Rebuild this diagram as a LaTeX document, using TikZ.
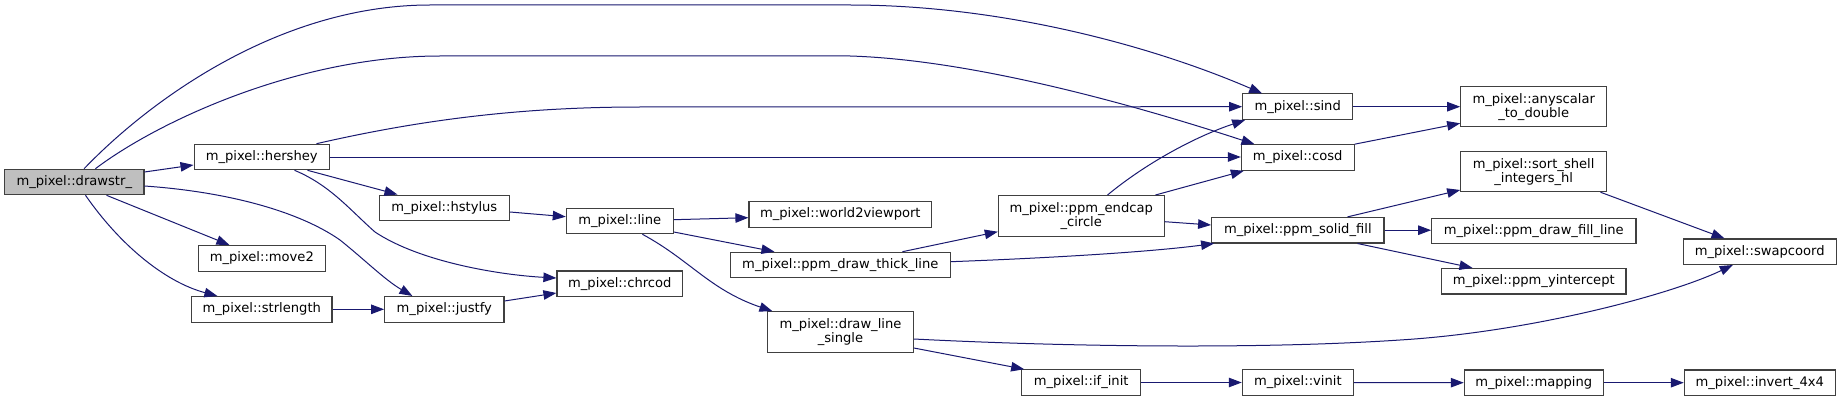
\documentclass[tikz,border=0pt]{standalone}
\usepackage{fontspec}
\setmainfont{DejaVu Sans}
\usetikzlibrary{arrows.meta}
\definecolor{edgeblue}{HTML}{191970}
\definecolor{boxline}{HTML}{404040}
\definecolor{rootfill}{HTML}{BFBFBF}
\begin{document}
\begin{tikzpicture}[x=1pt,y=-1pt,
  fn/.style={draw=boxline, line width=1.1pt, fill=white, inner sep=0pt,
    minimum height=25.5pt, align=center, font=\fontsize{13.1}{14}\selectfont},
  fn2/.style={fn, minimum height=40.5pt},
  call/.style={draw=edgeblue, line width=1pt, -{Triangle[length=13pt,width=9.5pt]}}]
\useasboundingbox (0,0) rectangle (1841,401);
\fill[white] (0,0) rectangle (1841,401);
% nodes
\node[fn, fill=rootfill, minimum width=139.3pt] (drawstr) at (74.3,182) {m\_pixel::drawstr\_};
\node[fn, minimum width=135.3pt] (hershey) at (261.7,157) {m\_pixel::hershey};
\node[fn, minimum width=127pt] (move2) at (261.8,258.3) {m\_pixel::move2};
\node[fn, minimum width=140.3pt] (strlength) at (261.8,309.3) {m\_pixel::strlength};
\node[fn, minimum width=130pt] (hstylus) at (444.3,207.8) {m\_pixel::hstylus};
\node[fn, minimum width=119.3pt] (justfy) at (444.3,309.3) {m\_pixel::justfy};
\node[fn, minimum width=107pt] (line) at (619.8,221) {m\_pixel::line};
\node[fn, minimum width=125.7pt] (chrcod) at (619.8,283.7) {m\_pixel::chrcod};
\node[fn, minimum width=182.7pt] (w2v) at (840.3,214.5) {m\_pixel::world2viewport};
\node[fn, minimum width=220pt] (thick) at (840.3,265) {m\_pixel::ppm\_draw\_thick\_line};
\node[fn2, minimum width=145.6pt] (dls) at (840.5,332) {m\_pixel::draw\_line\\\_single};
\node[fn2, minimum width=165.7pt] (endcap) at (1081.2,215.8) {m\_pixel::ppm\_endcap\\\_circle};
\node[fn, minimum width=119pt] (ifinit) at (1081.2,382.5) {m\_pixel::if\_init};
\node[fn, minimum width=110pt] (sind) at (1297.7,106.7) {m\_pixel::sind};
\node[fn, minimum width=112.7pt] (cosd) at (1297.7,157.5) {m\_pixel::cosd};
\node[fn, minimum width=172.3pt] (solid) at (1297.8,230.2) {m\_pixel::ppm\_solid\_fill};
\node[fn, minimum width=111pt] (vinit) at (1297.8,382.5) {m\_pixel::vinit};
\node[fn2, minimum width=146pt, minimum height=40pt] (anyscalar) at (1533.7,106.7) {m\_pixel::anyscalar\\\_to\_double};
\node[fn2, minimum width=146pt, minimum height=40pt] (sortshell) at (1533.7,171.7) {m\_pixel::sort\_shell\\\_integers\_hl};
\node[fn, minimum width=204.3pt] (fillline) at (1533.8,230.8) {m\_pixel::ppm\_draw\_fill\_line};
\node[fn, minimum width=184.3pt] (yint) at (1533.8,281.2) {m\_pixel::ppm\_yintercept};
\node[fn, minimum width=139pt] (mapping) at (1533.8,382.7) {m\_pixel::mapping};
\node[fn, minimum width=152.7pt] (swapcoord) at (1759.7,251.7) {m\_pixel::swapcoord};
\node[fn, minimum width=151pt] (invert) at (1759.8,382.7) {m\_pixel::invert\_4x4};
% edges
\draw[call] ([xshift=80pt]drawstr.north west) .. controls (150,100) and (280,5) .. (430,5) -- (850,5) .. controls (1000,5) and (1150,45) .. ([xshift=20pt]sind.north west);
\draw[call] ([xshift=91.3pt]drawstr.north west) .. controls (160,120) and (300,56) .. (440,56) -- (850,56) .. controls (980,60) and (1150,110) .. ([xshift=13.7pt]cosd.north west);
\draw[call] ([yshift=10pt]drawstr.east) -- ([yshift=-8pt]hershey.west);
\draw[call] ([yshift=-4pt]drawstr.east) .. controls (230,192) and (300,212) .. (340,240) .. controls (365,260) and (385,280) .. ([xshift=28.3pt]justfy.north west);
\draw[call] ([xshift=102.4pt]drawstr.south west) -- ([xshift=31.7pt]move2.north west);
\draw[call] ([xshift=81.4pt]drawstr.south west) .. controls (120,245) and (165,282) .. ([xshift=26.3pt]strlength.north west);
\draw[call] ([xshift=123pt]hershey.north west) .. controls (420,120) and (520,107) .. (640,107) -- (sind.west);
\draw[call] (hershey.east) -- (hershey.east -| cosd.west);
\draw[call] ([xshift=114pt]hershey.south west) -- ([xshift=18.7pt]hstylus.north west);
\draw[call] ([xshift=101pt]hershey.south west) .. controls (330,185) and (350,210) .. (375,232) .. controls (420,262) and (500,275) .. ([yshift=5.7pt]chrcod.west);
\draw[call] ([yshift=-4.2pt]hstylus.east) -- ([yshift=4.3pt]line.west);
\draw[call] (strlength.east) -- (justfy.west);
\draw[call] ([yshift=8.3pt]justfy.east) -- ([yshift=-9.3pt]chrcod.west);
\draw[call] ([yshift=1.3pt]line.east) -- ([yshift=-3.2pt]w2v.west);
\draw[call] ([yshift=-11pt]line.east) -- ([xshift=44.7pt]thick.north west);
\draw[call] ([xshift=76.7pt]line.south west) .. controls (690,260) and (710,290) .. ([xshift=5.3pt]dls.north west);
\draw[call] ([xshift=172.7pt]thick.north west) -- ([yshift=-15.9pt]endcap.west);
\draw[call] ([yshift=3.3pt]thick.east) .. controls (1050,258) and (1150,252) .. ([xshift=3pt]solid.south west);
\draw[call] ([xshift=109.7pt]endcap.north west) .. controls (1150,160) and (1200,135) .. ([xshift=3pt]sind.south west);
\draw[call] ([xshift=157.7pt]endcap.north west) -- ([xshift=3pt]cosd.south west);
\draw[call] ([yshift=-5.9pt]endcap.east) -- ([yshift=5.2pt]solid.west);
\draw[call] ([yshift=-7pt]dls.east) .. controls (1050,346) and (1250,350) .. (1400,340) .. controls (1530,332) and (1670,295) .. ([xshift=50pt]swapcoord.south west);
\draw[call] ([yshift=-16pt]dls.east) -- ([xshift=3pt]ifinit.north west);
\draw[call] (ifinit.east) -- (vinit.west);
\draw[call] (vinit.east) -- (mapping.west);
\draw[call] (mapping.east) -- (invert.west);
\draw[call] (sind.east) -- (anyscalar.west);
\draw[call] (cosd.north east) -- ([yshift=-16.6pt]anyscalar.west);
\draw[call] ([xshift=136.4pt]solid.north west) -- ([yshift=-18.3pt]sortshell.west);
\draw[call] (solid.east) -- (solid.east -| fillline.west);
\draw[call] ([xshift=146.4pt]solid.south west) -- ([xshift=31.4pt]yint.north west);
\draw[call] ([xshift=-6.7pt]sortshell.south east) -- ([xshift=41.7pt]swapcoord.north west);
\end{tikzpicture}
\end{document}
